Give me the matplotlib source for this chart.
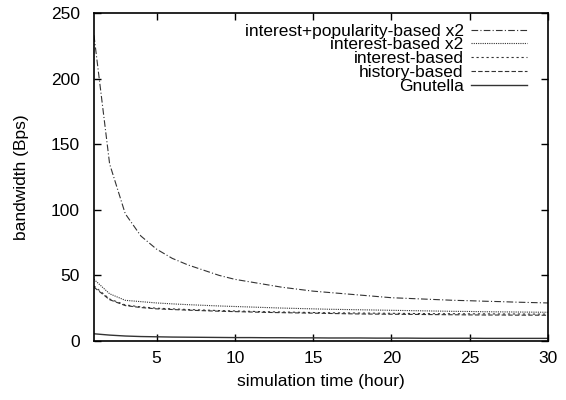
import matplotlib
matplotlib.use("Agg")
import matplotlib.pyplot as plt

plt.rcParams['font.family'] = ['Liberation Sans', 'DejaVu Sans']

hours = list(range(1, 31))
ip_x2 = [233, 135, 97, 80, 70, 63, 58, 54, 50, 47, 45, 43, 41, 39.5, 38, 37, 36, 35, 34, 33,
         32.5, 32, 31.5, 31, 30.7, 30.3, 30, 29.6, 29.3, 29]
int_x2 = [47, 36, 31, 30, 29, 28.3, 27.7, 27.2, 26.7, 26.3, 25.9, 25.5, 25.1, 24.8, 24.5, 24.2, 24,
          23.8, 23.6, 23.4, 23.2, 23, 22.8, 22.6, 22.5, 22.3, 22.2, 22.1, 22, 21.9]
int_b = [42, 32, 27.5, 26, 25, 24.5, 24, 23.6, 23.2, 22.9, 22.6, 22.3, 22.1, 21.9, 21.7, 21.5, 21.4,
         21.3, 21.2, 21.1, 21, 20.9, 20.8, 20.8, 20.7, 20.7, 20.6, 20.6, 20.5, 20.5]
hist_b = [41, 31.5, 27, 25.5, 24.5, 24, 23.5, 23.1, 22.7, 22.4, 22.1, 21.8, 21.6, 21.4, 21.2, 21, 20.8,
          20.6, 20.5, 20.4, 20.3, 20.2, 20.1, 20, 19.9, 19.8, 19.8, 19.7, 19.7, 19.6]
gnut = [5.5, 4.5, 3.8, 3.4, 3.2, 3.0, 2.9, 2.8, 2.7, 2.6, 2.6, 2.5, 2.5, 2.4, 2.4, 2.3, 2.3, 2.3,
        2.2, 2.2, 2.2, 2.1, 2.1, 2.1, 2.1, 2.0, 2.0, 2.0, 2.0, 2.0]

labels = ["interest+popularity-based x2", "interest-based x2", "interest-based",
          "history-based", "Gnutella"]

fig = plt.figure(figsize=(5.66, 4.0), dpi=100)
ax = fig.add_axes([0.166, 0.1475, 0.802, 0.82])

c = '#333333'
ax.plot(hours, ip_x2, color=c, lw=0.8, linestyle=(0, (6, 2, 1, 2)), label=labels[0])
ax.plot(hours, int_x2, color=c, lw=0.8, linestyle=(0, (1, 1)), label=labels[1])
ax.plot(hours, int_b, color=c, lw=0.8, linestyle=(0, (2, 2.5)), label=labels[2])
ax.plot(hours, hist_b, color=c, lw=0.8, linestyle=(0, (4, 2)), label=labels[3])
ax.plot(hours, gnut, color=c, lw=1.0, linestyle='-', label=labels[4])

fs = 12.5
ax.set_xlim(1, 30)
ax.set_ylim(0, 250)
ax.set_xticks([5, 10, 15, 20, 25, 30])
ax.set_yticks([0, 50, 100, 150, 200, 250])
ax.tick_params(direction='in', top=True, right=True, labelsize=fs, length=5, width=1)
ax.tick_params(axis='y', pad=10)
ax.tick_params(axis='x', pad=7)
for s in ax.spines.values():
    s.set_linewidth(1.2)
ax.set_xlabel("simulation time (hour)", fontsize=fs, labelpad=6)
ax.set_ylabel("bandwidth (Bps)", fontsize=fs, labelpad=16)

leg = ax.legend(loc='upper right', bbox_to_anchor=(0.969, 0.989), frameon=False,
                fontsize=fs, markerfirst=False, handlelength=3.2, labelspacing=-0.08,
                borderaxespad=0.0, handletextpad=0.45)
for t in leg.get_texts():
    t.set_ha('right')
leg._legend_box.align = 'right'

fig.savefig("out.png", dpi=100)
